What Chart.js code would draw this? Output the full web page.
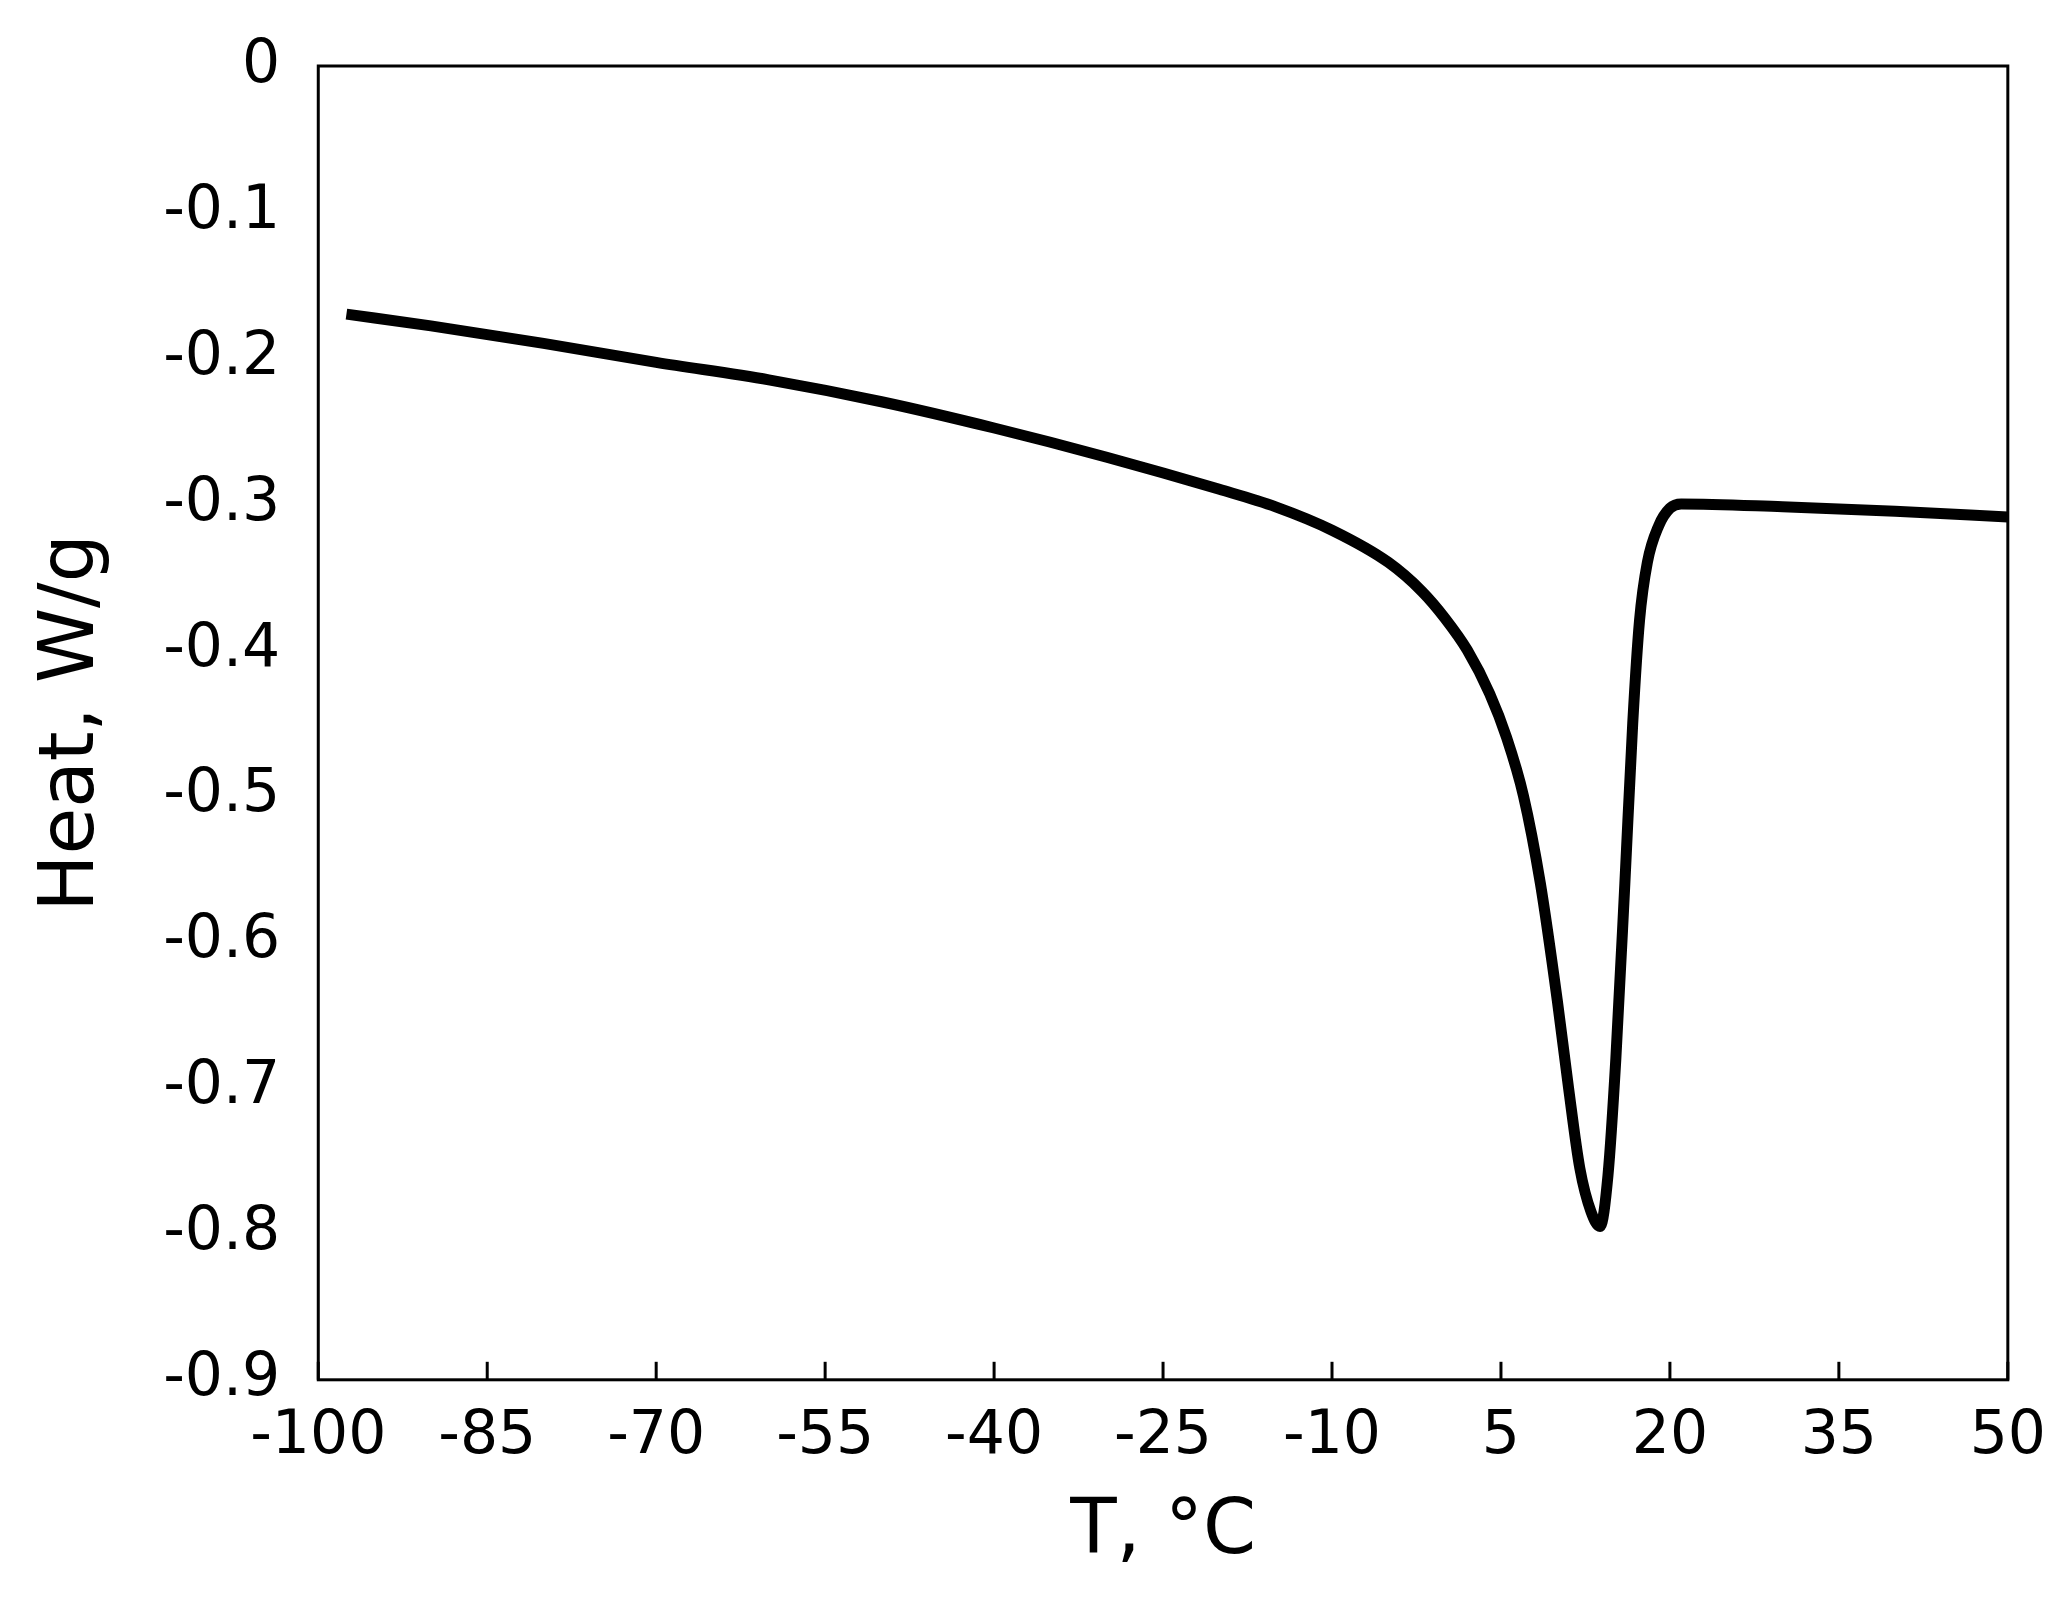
<!DOCTYPE html>
<html><head><meta charset="utf-8">
<script src="https://cdn.jsdelivr.net/npm/chart.js@4/dist/chart.umd.min.js"></script>
<style>html,body{margin:0;background:#fff}</style>
</head><body>
<canvas id="c" width="2060" height="1597"></canvas>
<script>
const temps = [-97.5,-90,-80,-70,-60,-50,-40,-30,-20,-15,-10,-5,-2,0,2,4,5.5,7,8.5,10,11,12,13,13.8,14.5,15.2,16,16.7,17.3,18,19,20,21,30,40,50];
const heat = [-0.17,-0.178,-0.19,-0.203,-0.215,-0.23,-0.248,-0.268,-0.29,-0.302,-0.318,-0.34,-0.36,-0.378,-0.4,-0.43,-0.46,-0.5,-0.56,-0.64,-0.7,-0.755,-0.785,-0.795,-0.76,-0.68,-0.56,-0.45,-0.38,-0.34,-0.315,-0.303,-0.3,-0.302,-0.305,-0.309];
const xTicks = [-100,-85,-70,-55,-40,-25,-10,5,20,35,50];

const frame = {
  id: 'frame',
  afterDraw(chart) {
    const { ctx, chartArea: a, scales } = chart;
    ctx.save();
    ctx.strokeStyle = '#000';
    ctx.lineWidth = 3;
    ctx.strokeRect(a.left, a.top, a.right - a.left, a.bottom - a.top);
    xTicks.forEach(v => {
      const px = scales.x.getPixelForValue(v);
      ctx.beginPath();
      ctx.moveTo(px, a.bottom);
      ctx.lineTo(px, a.bottom - 18);
      ctx.stroke();
    });
    ctx.restore();
  }
};

new Chart(document.getElementById('c'), {
  type: 'line',
  data: {
    datasets: [{
      data: temps.map((t, i) => ({ x: t, y: heat[i] })),
      borderColor: '#000',
      borderWidth: 11,
      pointRadius: 0,
      cubicInterpolationMode: 'monotone'
    }]
  },
  options: {
    responsive: false,
    animation: false,
    layout: { padding: { top: 28, right: 52, left: 14, bottom: 18 } },
    plugins: { legend: { display: false }, tooltip: { enabled: false } },
    scales: {
      x: {
        type: 'linear', min: -100, max: 50,
        afterBuildTicks: s => { s.ticks = xTicks.map(v => ({ value: v })); },
        grid: { display: false },
        border: { display: false },
        ticks: { color: '#000', font: { family: 'DejaVu Sans', size: 60 }, padding: 14, maxRotation: 0 },
        title: { display: true, text: 'T, °C', color: '#000', font: { family: 'DejaVu Sans', size: 76 }, padding: 0 }
      },
      y: {
        min: -0.9, max: 0,
        grid: { display: false },
        border: { display: false },
        ticks: { stepSize: 0.1, color: '#000', font: { family: 'DejaVu Sans', size: 60 }, padding: 30,
          callback: v => Math.abs(v) < 1e-9 ? '0' : v.toFixed(1) },
        title: { display: true, text: 'Heat, W/g', color: '#000', font: { family: 'DejaVu Sans', size: 76 }, padding: 14 }
      }
    }
  },
  plugins: [frame]
});
</script>
</body></html>
